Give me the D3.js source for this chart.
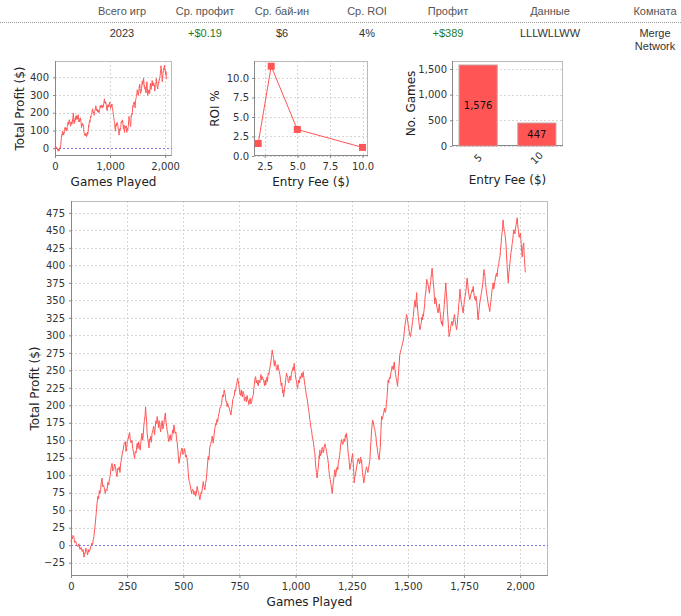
<!DOCTYPE html>
<html><head><meta charset="utf-8">
<script src="https://cdn.jsdelivr.net/npm/d3@7"></script>
<style>
body{margin:0;background:#fff;}
svg{display:block;}
</style></head><body>
<svg id="c" width="681" height="616"></svg>
<script>
// ---------------- DATA ----------------
const headerLabels = ["Всего игр","Ср. профит","Ср. бай-ин","Ср. ROI","Профит","Данные","Комната"];
const headerValues = ["2023","+$0.19","$6","4%","+$389","LLLWLLWW","Merge\nNetwork"];
const headerPositive = [false,true,false,false,true,false,false];

// [games played, total profit $]
const profitCurve = [
[0,5],[3,10],[6,9],[9,14],[13,12],[16,4],[20,6],[25,1],[31,-2],[35,2],[40,-6],[45,-3],[50,-9],[54,-6],[58,-17],[60,-11],[63,-12],[66,-4],[68,-7],[71,-9],[74,-14],[77,-6],[79,-10],[83,-8],[86,-4],[90,-1],[93,3],[96,1],[99,8],[102,12],[105,22],[108,30],[112,45],[116,60],[120,70],[123,66],[126,78],[129,74],[132,80],[135,90],[138,96],[141,84],[145,86],[149,80],[153,74],[156,80],[160,78],[164,90],[168,86],[171,95],[175,100],[179,112],[183,117],[186,106],[190,108],[194,116],[198,112],[201,104],[205,98],[208,110],[212,108],[215,112],[218,104],[221,116],[224,122],[228,130],[232,136],[237,146],[242,148],[245,134],[248,140],[251,150],[255,152],[258,158],[261,161],[264,150],[268,146],[271,150],[275,138],[279,132],[283,124],[286,134],[290,132],[292,140],[295,146],[298,138],[301,148],[304,142],[308,136],[312,150],[316,160],[319,150],[322,158],[324,170],[327,178],[330,186],[332,198],[334,188],[337,176],[339,160],[342,152],[345,146],[347,139],[350,152],[353,150],[355,156],[358,147],[361,160],[365,165],[368,170],[372,158],[375,168],[378,178],[381,174],[384,184],[387,176],[390,168],[392,178],[395,175],[397,166],[399,162],[402,170],[406,178],[409,166],[413,172],[416,180],[420,189],[423,176],[426,170],[428,164],[431,160],[433,152],[436,148],[439,155],[442,158],[445,150],[448,152],[451,160],[453,165],[456,160],[458,172],[461,166],[464,160],[467,162],[470,152],[473,146],[476,136],[478,126],[481,117],[484,124],[487,128],[491,136],[495,139],[498,130],[502,132],[505,138],[507,136],[510,126],[513,129],[516,124],[519,118],[522,104],[525,93],[528,90],[531,85],[534,80],[537,74],[540,80],[544,79],[548,72],[552,77],[555,70],[557,72],[560,80],[562,84],[565,78],[568,74],[571,70],[574,65],[577,72],[580,76],[582,74],[585,82],[587,86],[589,91],[592,84],[596,79],[599,88],[603,95],[607,112],[611,127],[614,122],[618,140],[622,144],[626,151],[629,156],[633,146],[636,154],[638,160],[641,168],[644,174],[647,172],[650,180],[653,176],[656,184],[660,190],[663,196],[667,198],[671,203],[673,210],[676,215],[679,212],[682,222],[685,218],[688,212],[690,205],[693,206],[695,198],[697,203],[700,200],[704,196],[708,192],[712,186],[715,194],[718,200],[720,208],[723,210],[727,214],[730,222],[733,220],[736,228],[739,232],[742,239],[745,234],[747,230],[750,222],[752,217],[755,214],[758,222],[760,216],[763,212],[766,220],[770,216],[772,206],[775,210],[778,212],[781,205],[784,214],[787,208],[790,206],[792,201],[795,206],[798,210],[801,202],[805,206],[808,212],[812,215],[814,224],[817,230],[819,238],[822,241],[825,232],[828,236],[831,230],[834,228],[837,236],[841,232],[843,238],[846,244],[849,236],[852,241],[855,238],[858,235],[860,232],[862,228],[865,236],[867,229],[870,236],[872,240],[875,234],[878,246],[881,244],[884,250],[887,256],[890,262],[893,270],[896,279],[899,272],[902,268],[904,260],[906,256],[908,264],[911,260],[914,254],[918,250],[921,258],[924,254],[927,248],[930,244],[933,236],[936,228],[939,232],[942,218],[944,222],[947,212],[948,216],[950,220],[952,226],[955,232],[957,240],[960,246],[962,242],[965,240],[967,234],[970,232],[972,238],[975,242],[977,236],[979,236],[981,244],[984,248],[987,252],[990,255],[992,250],[994,260],[996,252],[999,244],[1001,238],[1004,235],[1006,230],[1009,224],[1011,230],[1014,236],[1017,232],[1020,241],[1023,238],[1027,246],[1030,240],[1034,248],[1036,242],[1039,235],[1042,228],[1045,222],[1047,216],[1050,212],[1053,206],[1056,198],[1058,194],[1060,190],[1063,180],[1066,175],[1068,168],[1071,165],[1074,156],[1078,150],[1080,146],[1082,140],[1084,134],[1086,131],[1088,120],[1090,112],[1093,104],[1096,96],[1098,104],[1101,110],[1103,118],[1105,128],[1106,124],[1108,136],[1111,128],[1114,130],[1117,138],[1120,140],[1123,132],[1126,136],[1128,142],[1131,145],[1133,140],[1136,138],[1138,134],[1141,128],[1143,124],[1146,117],[1148,108],[1151,100],[1154,94],[1157,88],[1160,82],[1163,74],[1166,84],[1169,92],[1172,100],[1175,108],[1178,98],[1181,104],[1183,110],[1186,112],[1188,108],[1190,117],[1193,122],[1196,128],[1198,134],[1200,142],[1202,146],[1205,151],[1208,146],[1211,144],[1213,150],[1216,152],[1219,148],[1222,158],[1225,154],[1227,160],[1230,150],[1232,140],[1234,132],[1237,126],[1239,118],[1242,108],[1245,114],[1248,118],[1251,126],[1254,131],[1256,120],[1258,112],[1260,98],[1261,89],[1263,96],[1266,100],[1269,106],[1272,112],[1275,118],[1279,124],[1282,120],[1285,116],[1287,122],[1290,126],[1292,118],[1294,122],[1296,112],[1298,104],[1301,96],[1304,89],[1307,96],[1310,102],[1313,108],[1316,112],[1319,108],[1322,104],[1325,110],[1328,116],[1330,120],[1331,122],[1333,136],[1336,150],[1338,162],[1340,170],[1342,176],[1343,179],[1346,176],[1348,172],[1350,168],[1353,165],[1355,160],[1358,155],[1360,146],[1363,140],[1365,134],[1368,128],[1370,124],[1372,122],[1374,130],[1377,140],[1380,162],[1383,184],[1386,180],[1390,186],[1393,190],[1396,196],[1399,190],[1402,193],[1404,202],[1407,210],[1410,226],[1412,236],[1415,232],[1418,240],[1421,238],[1424,246],[1427,250],[1430,256],[1432,252],[1435,251],[1437,258],[1440,262],[1442,252],[1445,246],[1447,240],[1450,236],[1452,232],[1454,227],[1457,240],[1459,250],[1462,262],[1464,272],[1467,276],[1470,280],[1473,284],[1476,288],[1479,292],[1482,298],[1485,308],[1488,316],[1491,322],[1494,330],[1497,326],[1500,318],[1503,312],[1506,305],[1509,300],[1512,298],[1515,306],[1518,312],[1521,320],[1524,327],[1527,338],[1531,350],[1533,346],[1536,340],[1537,352],[1539,361],[1541,348],[1544,336],[1546,328],[1549,320],[1551,314],[1554,308],[1557,314],[1560,318],[1562,326],[1565,322],[1567,330],[1569,327],[1572,336],[1575,345],[1577,356],[1580,362],[1582,372],[1584,380],[1587,376],[1590,372],[1593,366],[1596,360],[1599,370],[1602,378],[1605,388],[1608,396],[1610,388],[1612,380],[1614,372],[1616,366],[1618,354],[1620,345],[1623,354],[1626,350],[1628,342],[1631,338],[1633,334],[1635,332],[1638,340],[1640,345],[1642,336],[1645,330],[1647,322],[1650,316],[1652,320],[1655,313],[1657,326],[1660,335],[1662,344],[1664,352],[1666,362],[1669,375],[1671,362],[1674,350],[1676,336],[1679,322],[1681,310],[1684,298],[1687,304],[1690,310],[1693,316],[1696,320],[1699,314],[1702,318],[1705,326],[1708,330],[1710,322],[1713,315],[1715,312],[1717,308],[1720,316],[1722,325],[1725,336],[1727,345],[1730,356],[1732,366],[1734,358],[1737,350],[1739,344],[1742,340],[1744,336],[1746,332],[1749,342],[1752,350],[1755,356],[1758,362],[1761,372],[1764,382],[1767,372],[1770,362],[1773,356],[1776,351],[1779,356],[1782,360],[1784,362],[1787,366],[1789,362],[1791,370],[1793,362],[1796,356],[1798,352],[1801,350],[1803,356],[1806,351],[1808,342],[1810,335],[1811,328],[1813,322],[1815,330],[1818,338],[1820,346],[1823,352],[1825,356],[1828,361],[1830,366],[1833,372],[1836,384],[1839,394],[1841,390],[1843,385],[1845,376],[1848,368],[1850,362],[1853,356],[1855,350],[1858,345],[1861,340],[1865,334],[1867,342],[1870,350],[1872,356],[1875,365],[1877,370],[1880,375],[1882,366],[1885,370],[1887,376],[1890,382],[1892,386],[1895,389],[1897,384],[1900,395],[1902,398],[1905,402],[1907,408],[1910,412],[1912,420],[1915,430],[1917,440],[1920,448],[1922,456],[1924,465],[1926,458],[1928,452],[1930,448],[1932,446],[1934,440],[1937,430],[1939,416],[1942,400],[1944,388],[1947,375],[1949,386],[1952,395],[1954,402],[1957,410],[1959,418],[1962,424],[1964,430],[1967,436],[1969,444],[1972,451],[1974,448],[1977,445],[1979,452],[1982,458],[1984,462],[1987,468],[1989,458],[1992,450],[1994,444],[1996,440],[1998,444],[2001,446],[2003,438],[2005,430],[2007,420],[2009,412],[2011,420],[2013,428],[2014,430],[2016,432],[2017,420],[2019,410],[2021,400],[2023,390]
];

const roiFees = [2, 3, 5, 10];
const roiValues = [1.6, 11.5, 3.4, 1.1];

const barFees = ["5", "10"];
const barGames = [1576, 447];

const mainXTicks = [0,250,500,750,1000,1250,1500,1750,2000];
const mainYTicks = [-25,0,25,50,75,100,125,150,175,200,225,250,275,300,325,350,375,400,425,450,475];
const smallXTicks = [0,1000,2000];
const smallYTicks = [0,100,200,300,400];
const roiXTicks = [2.5,5,7.5,10];
const roiYTicks = [0,2.5,5,7.5,10];
const barYTicks = [0,500,1000,1500];

// ---------------- STYLE ----------------
const RED = "#ff5555";
const GRID = "#d6d6d6";
const ZERO = "#7b7be8";
const TICKFONT = "DejaVu Sans, sans-serif";
const LABELFONT = "DejaVu Sans, sans-serif";
const fmtComma = d3.format(",");
const fmt1 = d3.format(".1f");

const svg = d3.select("#c");

// ---------------- HEADER ----------------
const colX = [122, 205, 282, 367, 448, 550, 655];
const hdr = svg.append("g").attr("font-family","Liberation Sans, Arial, sans-serif").attr("font-size",11).attr("text-anchor","middle");
hdr.selectAll("text.h").data(headerLabels).join("text")
  .attr("x",(d,i)=>colX[i]).attr("y",15).attr("fill","#555").text(d=>d);
svg.append("line").attr("x1",0).attr("x2",681).attr("y1",22.5).attr("y2",22.5)
  .attr("stroke","#999").attr("stroke-dasharray","1,1");
headerValues.forEach((v,i)=>{
  const lines = v.split("\n");
  lines.forEach((ln,j)=>{
    hdr.append("text").attr("x",colX[i]).attr("y",37+j*13)
      .attr("fill", headerPositive[i] ? "#1f7a1f" : "#333").text(ln);
  });
});

// ---------------- PANEL HELPER ----------------
function panel(o){
  const g = svg.append("g");
  g.append("rect").attr("x",o.L).attr("y",o.T).attr("width",o.R-o.L).attr("height",o.B-o.T).attr("fill","#fff");
  if (o.vGrid) g.selectAll("line.vg").data(o.xTicks).join("line")
    .attr("x1",d=>Math.round(o.x(d))+0.5).attr("x2",d=>Math.round(o.x(d))+0.5)
    .attr("y1",o.T).attr("y2",o.B).attr("stroke",GRID).attr("stroke-dasharray","2,2");
  g.selectAll("line.hg").data(o.yTicks).join("line")
    .attr("y1",d=>Math.round(o.y(d))+0.5).attr("y2",d=>Math.round(o.y(d))+0.5)
    .attr("x1",o.L).attr("x2",o.R).attr("stroke",GRID).attr("stroke-dasharray","2,2");
  g.append("rect").attr("x",o.L+0.5).attr("y",o.T+0.5).attr("width",o.R-o.L-1).attr("height",o.B-o.T-1)
    .attr("fill","none").attr("stroke","#bcbcbc");
  const ya = g.append("g").attr("transform",`translate(${o.L},0)`)
    .call(d3.axisLeft(o.y).tickValues(o.yTicks).tickFormat(o.yFmt).tickSize(2).tickPadding(o.yPad||3));
  ya.select(".domain").remove();
  ya.selectAll("line").attr("stroke","#888");
  ya.selectAll("text").attr("font-family",TICKFONT).attr("font-size",10).attr("fill","#333");
  if (!o.band){
    const xa = g.append("g").attr("transform",`translate(0,${o.B})`)
      .call(d3.axisBottom(o.x).tickValues(o.xTicks).tickFormat(o.xFmt).tickSize(2).tickPadding(o.xPad||4));
    xa.select(".domain").remove();
    xa.selectAll("line").attr("stroke","#888");
    xa.selectAll("text").attr("font-family",TICKFONT).attr("font-size",10).attr("fill","#333");
  }
  g.append("line").attr("x1",o.L+0.5).attr("x2",o.L+0.5).attr("y1",o.T).attr("y2",o.B).attr("stroke","#888");
  g.append("line").attr("x1",o.L).attr("x2",o.R).attr("y1",o.B-0.5).attr("y2",o.B-0.5).attr("stroke","#888");
  g.append("text").attr("transform",`translate(${o.ylx},${(o.T+o.B)/2}) rotate(-90)`)
    .attr("text-anchor","middle").attr("font-family",LABELFONT).attr("font-size",12).attr("fill","#222").text(o.yLabel);
  g.append("text").attr("x",(o.L+o.R)/2).attr("y",o.xly)
    .attr("text-anchor","middle").attr("font-family",LABELFONT).attr("font-size",12).attr("fill","#222").text(o.xLabel);
  return g;
}

// ---------------- SMALL PROFIT CHART ----------------
{
  const L=55,R=172,T=61,B=156;
  const x = d3.scaleLinear().domain([0,2124]).range([L,R]);
  const y = d3.scaleLinear().domain([-44,492]).range([B,T]);
  const g = panel({L,R,T,B,x,y,xTicks:smallXTicks,yTicks:smallYTicks,xFmt:fmtComma,yFmt:d3.format("d"),
    vGrid:true,ylx:24,xly:186,yLabel:"Total Profit ($)",xLabel:"Games Played",yPad:4,xPad:5});
  g.append("line").attr("x1",L).attr("x2",R).attr("y1",Math.round(y(0))+0.5).attr("y2",Math.round(y(0))+0.5)
    .attr("stroke",ZERO).attr("stroke-dasharray","2,2");
  g.append("path").datum(profitCurve).attr("fill","none").attr("stroke",RED).attr("stroke-width",1)
    .attr("d",d3.line().x(d=>x(d[0])).y(d=>y(d[1])));
}

// ---------------- ROI CHART ----------------
{
  const L=254,R=368,T=61,B=156;
  const x = d3.scaleLinear().domain([1.68,10.42]).range([L,R]);
  const y = d3.scaleLinear().domain([0,12.17]).range([B,T]);
  const g = panel({L,R,T,B,x,y,xTicks:roiXTicks,yTicks:roiYTicks,xFmt:fmt1,yFmt:fmt1,
    vGrid:true,ylx:219,xly:186,yLabel:"ROI %",xLabel:"Entry Fee ($)",yPad:3,xPad:5});
  const pts = roiFees.map((f,i)=>[f,roiValues[i]]);
  g.append("path").datum(pts).attr("fill","none").attr("stroke",RED).attr("stroke-width",1)
    .attr("d",d3.line().x(d=>x(d[0])).y(d=>y(d[1])));
  g.selectAll("rect.m").data(pts).join("rect")
    .attr("x",d=>x(d[0])-3.5).attr("y",d=>y(d[1])-3.5).attr("width",7).attr("height",7).attr("fill",RED);
}

// ---------------- BAR CHART ----------------
{
  const L=452,R=563,T=61,B=146;
  const x = d3.scaleBand().domain(barFees).range([L,R]).paddingInner(0.35).paddingOuter(0.12);
  const y = d3.scaleLinear().domain([0,1654]).range([B,T]);
  const g = panel({L,R,T,B,x,y,band:true,xTicks:[],yTicks:barYTicks,xFmt:null,yFmt:fmtComma,
    vGrid:false,ylx:415,xly:184,yLabel:"No. Games",xLabel:"Entry Fee ($)",yPad:3});
  g.selectAll("rect.bar").data(barFees).join("rect")
    .attr("x",d=>x(d)).attr("width",x.bandwidth())
    .attr("y",(d,i)=>y(barGames[i])).attr("height",(d,i)=>B-y(barGames[i]))
    .attr("fill",RED).attr("stroke","#c4a0a0").attr("stroke-width",1);
  g.selectAll("text.bl").data(barFees).join("text")
    .attr("x",d=>x(d)+x.bandwidth()/2).attr("y",(d,i)=>(y(barGames[i])+B)/2)
    .attr("dy","0.35em").attr("text-anchor","middle").attr("font-family",TICKFONT).attr("font-size",10)
    .attr("fill","#111").text((d,i)=>fmtComma(barGames[i]));
  g.selectAll("text.xl").data(barFees).join("text")
    .attr("transform",d=>`translate(${x(d)+x.bandwidth()/2},${B+12}) rotate(-45)`)
    .attr("dy","0.35em").attr("text-anchor","middle").attr("font-family",TICKFONT).attr("font-size",10)
    .attr("fill","#333").text(d=>d);
}

// ---------------- MAIN CHART ----------------
{
  const L=71,R=548,T=201,B=576;
  const x = d3.scaleLinear().domain([0,2124]).range([L,R]);
  const y = d3.scaleLinear().domain([-44,492]).range([B,T]);
  const g = panel({L,R,T,B,x,y,xTicks:mainXTicks,yTicks:mainYTicks,xFmt:fmtComma,yFmt:d3.format("d"),
    vGrid:true,ylx:39,xly:606,yLabel:"Total Profit ($)",xLabel:"Games Played",yPad:4,xPad:5});
  g.append("line").attr("x1",L).attr("x2",R).attr("y1",Math.round(y(0))+0.5).attr("y2",Math.round(y(0))+0.5)
    .attr("stroke",ZERO).attr("stroke-dasharray","2,2");
  g.append("path").datum(profitCurve).attr("fill","none").attr("stroke",RED).attr("stroke-width",1)
    .attr("d",d3.line().x(d=>x(d[0])).y(d=>y(d[1])));
}
</script>
</body></html>
